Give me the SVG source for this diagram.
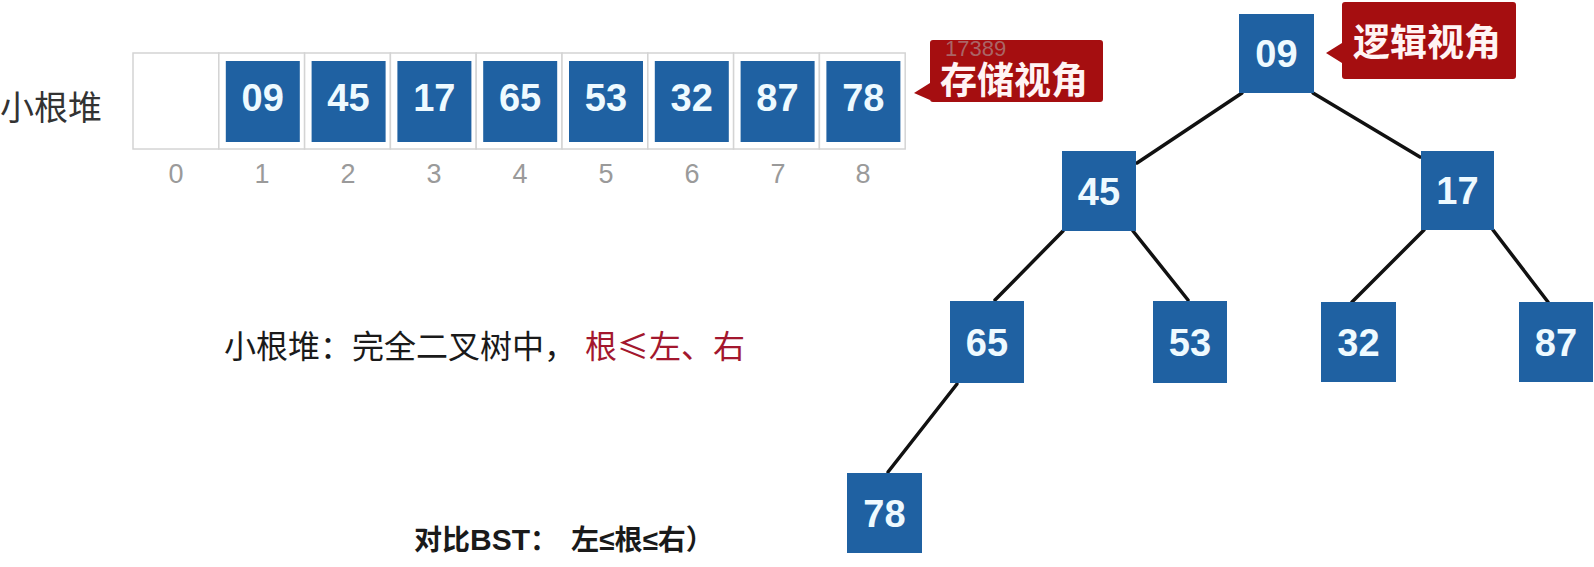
<svg xmlns="http://www.w3.org/2000/svg" width="1594" height="567" viewBox="0 0 1594 567">
<style>
.cell{fill:#fff;stroke:#d4d4d4;stroke-width:1.5}
.blue{fill:#1f61a2}
.num{font-family:"Liberation Sans",Arial,sans-serif;font-weight:bold;font-size:38px;fill:#eefaff;text-anchor:middle}
.idx{font-family:"Liberation Sans",Arial,sans-serif;font-size:27px;fill:#9a9a9a;text-anchor:middle}
.cjk{font-family:"Noto Sans CJK SC","Liberation Sans",sans-serif}
.lat{font-family:"Liberation Sans",Arial,sans-serif}
.callout{fill:#a50e10}
.ctext{font-family:"Noto Sans CJK SC",sans-serif;font-weight:bold;font-size:37px;fill:#fff4f4}
.edge{stroke:#111;stroke-width:3.5;fill:none;stroke-linecap:round}
</style>

<g id="array">
  <text class="cjk" x="0" y="120" font-size="34" fill="#333">小根堆</text>
  <g id="cells">
    <rect class="cell" x="133" y="53" width="85.8" height="96"/>
    <rect class="cell" x="218.8" y="53" width="85.8" height="96"/>
    <rect class="cell" x="304.6" y="53" width="85.8" height="96"/>
    <rect class="cell" x="390.4" y="53" width="85.8" height="96"/>
    <rect class="cell" x="476.2" y="53" width="85.8" height="96"/>
    <rect class="cell" x="562" y="53" width="85.8" height="96"/>
    <rect class="cell" x="647.8" y="53" width="85.8" height="96"/>
    <rect class="cell" x="733.6" y="53" width="85.8" height="96"/>
    <rect class="cell" x="819.4" y="53" width="85.8" height="96"/>
  </g>
  <g id="a1"><rect class="blue" x="225.8" y="61" width="74" height="81"/><text class="num" x="262.7" y="111">09</text></g>
  <g id="a2"><rect class="blue" x="311.6" y="61" width="74" height="81"/><text class="num" x="348.5" y="111">45</text></g>
  <g id="a3"><rect class="blue" x="397.4" y="61" width="74" height="81"/><text class="num" x="434.3" y="111">17</text></g>
  <g id="a4"><rect class="blue" x="483.2" y="61" width="74" height="81"/><text class="num" x="520.1" y="111">65</text></g>
  <g id="a5"><rect class="blue" x="569" y="61" width="74" height="81"/><text class="num" x="605.9" y="111">53</text></g>
  <g id="a6"><rect class="blue" x="654.8" y="61" width="74" height="81"/><text class="num" x="691.7" y="111">32</text></g>
  <g id="a7"><rect class="blue" x="740.6" y="61" width="74" height="81"/><text class="num" x="777.5" y="111">87</text></g>
  <g id="a8"><rect class="blue" x="826.4" y="61" width="74" height="81"/><text class="num" x="863.3" y="111">78</text></g>
  <g id="indices">
    <text class="idx" x="176" y="183">0</text>
    <text class="idx" x="262" y="183">1</text>
    <text class="idx" x="348" y="183">2</text>
    <text class="idx" x="434" y="183">3</text>
    <text class="idx" x="520" y="183">4</text>
    <text class="idx" x="606" y="183">5</text>
    <text class="idx" x="692" y="183">6</text>
    <text class="idx" x="778" y="183">7</text>
    <text class="idx" x="863" y="183">8</text>
  </g>
</g>

<g id="callout-storage">
  <path class="callout" d="M933 40 H1100 Q1103 40 1103 43 V99 Q1103 102 1100 102 H933 Q930 102 930 99 V100 L914 93 L930 83 V43 Q930 40 933 40 Z"/>
  <text x="945" y="56" font-family="Liberation Sans,Arial,sans-serif" font-size="22" fill="#b0b0b0" fill-opacity="0.55">17389</text>
  <text class="ctext" x="940" y="94">存储视角</text>
</g>

<g id="callout-logic">
  <path class="callout" d="M1345 2 H1513 Q1516 2 1516 5 V76 Q1516 79 1513 79 H1345 Q1342 79 1342 76 V63 L1326 53 L1342 43 V5 Q1342 2 1345 2 Z"/>
  <text class="ctext" x="1353" y="56">逻辑视角</text>
</g>

<g id="edges">
  <line class="edge" x1="1242" y1="93" x2="1137" y2="163"/>
  <line class="edge" x1="1313" y1="93" x2="1420" y2="157"/>
  <line class="edge" x1="1063" y1="231" x2="995" y2="300"/>
  <line class="edge" x1="1133" y1="231" x2="1188" y2="300"/>
  <line class="edge" x1="1424" y1="230" x2="1352" y2="302"/>
  <line class="edge" x1="1493" y1="230" x2="1548" y2="302"/>
  <line class="edge" x1="957" y1="384" x2="888" y2="472"/>
</g>

<g id="n09"><rect class="blue" x="1239" y="14" width="75" height="79"/><text class="num" x="1276.5" y="67">09</text></g>
<g id="n45"><rect class="blue" x="1062" y="151" width="74" height="80"/><text class="num" x="1099" y="204.5">45</text></g>
<g id="n17"><rect class="blue" x="1421" y="151" width="73" height="79"/><text class="num" x="1457.5" y="204">17</text></g>
<g id="n65"><rect class="blue" x="950" y="301" width="74" height="82"/><text class="num" x="987" y="355.5">65</text></g>
<g id="n53"><rect class="blue" x="1153" y="301" width="74" height="82"/><text class="num" x="1190" y="355.5">53</text></g>
<g id="n32"><rect class="blue" x="1321" y="302" width="75" height="80"/><text class="num" x="1358.5" y="355.5">32</text></g>
<g id="n87"><rect class="blue" x="1519" y="302" width="74" height="80"/><text class="num" x="1556" y="355.5">87</text></g>
<g id="n78"><rect class="blue" x="847" y="473" width="75" height="80"/><text class="num" x="884.5" y="527">78</text></g>

<g id="caption1">
  <text class="cjk" x="224" y="358" font-size="32" fill="#1a1a1a">小根堆：完全二叉树中，<tspan x="585" fill="#a3172e">根≤左、右</tspan></text>
</g>

<g id="caption2">
  <text class="cjk" y="550" font-size="28" font-weight="bold" fill="#1a1a1a"><tspan x="414">对比</tspan><tspan x="470" class="lat" font-size="30">BST</tspan><tspan>：</tspan><tspan x="571">左</tspan><tspan class="lat">≤</tspan><tspan>根</tspan><tspan class="lat">≤</tspan><tspan>右）</tspan></text>
</g>
</svg>
